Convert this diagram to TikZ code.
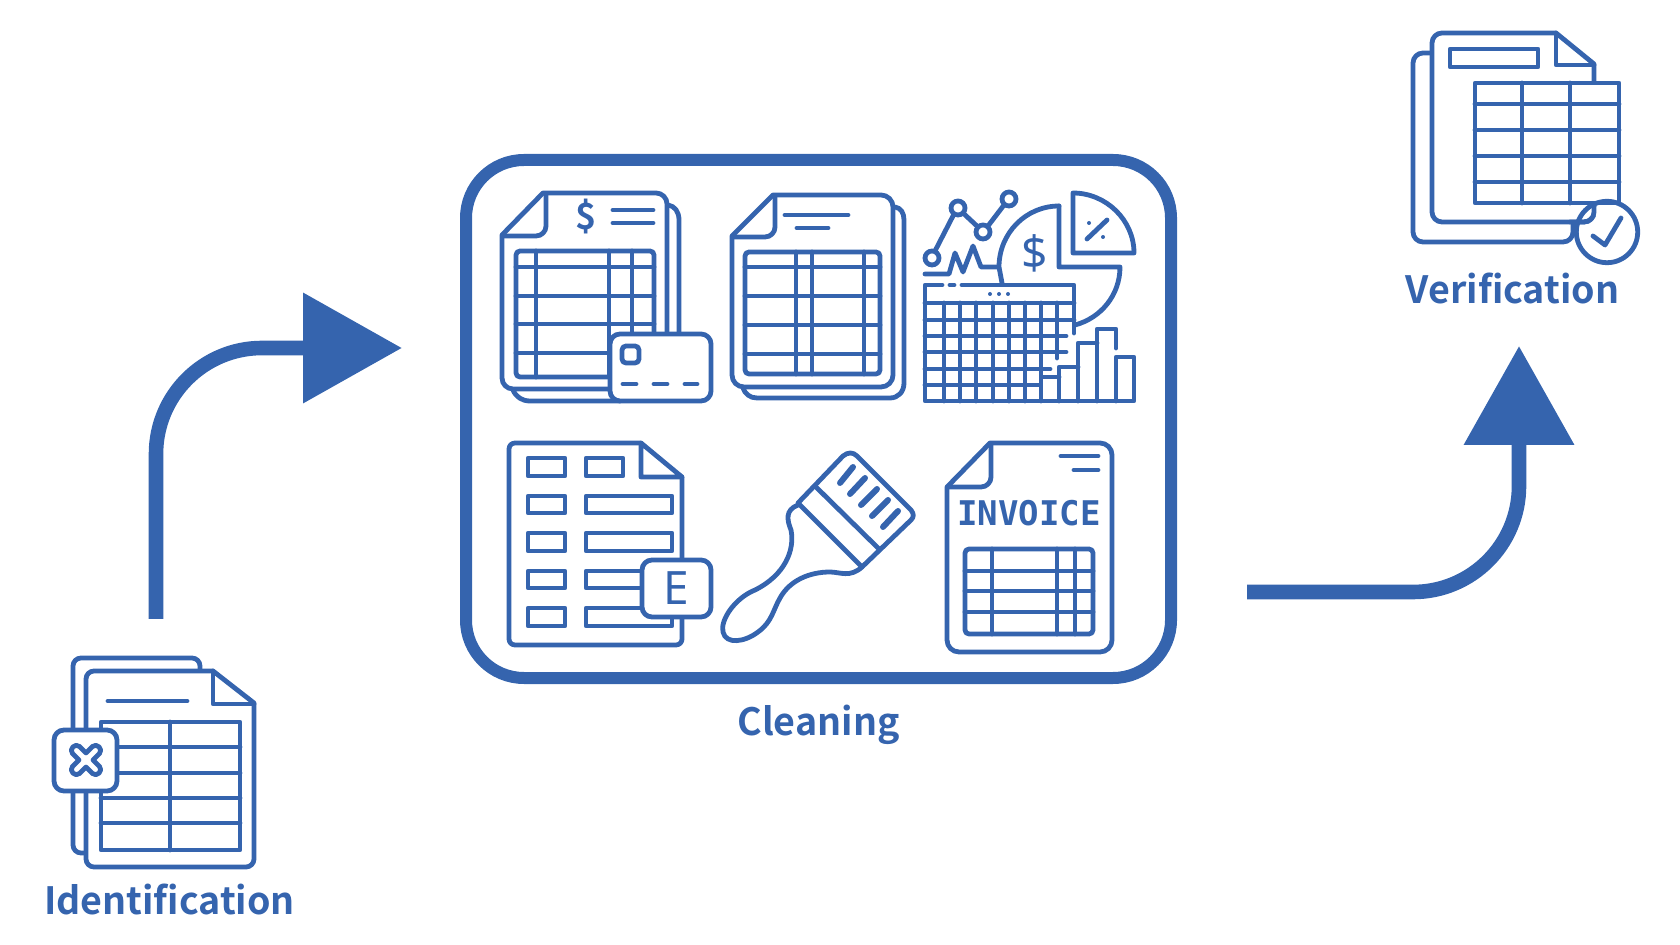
\documentclass[tikz,border=0pt]{standalone}
\usepackage{fontspec}
\setmainfont{Noto Sans}
\newfontfamily\invoicefont{DejaVu Sans Mono}
\newfontfamily\capfont{Noto Sans CJK SC}[BoldFont={Noto Sans CJK SC Bold}]
\usetikzlibrary{arrows.meta, positioning}
\definecolor{iconblue}{HTML}{3564AE}
\tikzset{
    icon/.style={draw=iconblue, line width=2.4pt, line join=round, line cap=round}, % every outline of the small pictures
    page/.style={icon, fill=white}, % sheets that hide what is behind them
    flow/.style={draw=iconblue, line width=7.3pt, rounded corners=53pt, -{Triangle[length=49.5pt, width=53.5pt]}}, % the two big arrows
    caption/.style={text=iconblue, font=\fontsize{18.8}{20}\selectfont\capfont\bfseries, anchor=base},
    glyph/.style={text=iconblue, inner sep=0pt},
}

\begin{document}
\begin{tikzpicture}[x=.5pt, y=-.5pt]
    \useasboundingbox (0,0) rectangle (1680,945);

    % frame and captions
    \node[draw=iconblue, line width=6pt, rounded corners=29pt, minimum width=352.5pt, minimum height=259pt, inner sep=0pt] (cleanbox) at (818.5,419) {};
    \node[caption] (cleanlabel) at (818.5,735) {Cleaning};
    \node[caption] (idlabel) at (169.5,914) {Identification};
    \node[caption] (verlabel) at (1512.5,304) {Verification};

    % arrows
    \coordinate (idstart) at (156,619);
    \coordinate (idend) at (402,348);
    \coordinate (verstart) at (1247,592);
    \coordinate (verend) at (1519,346);
    \draw[flow] (idstart) |- (idend);
    \draw[flow] (verstart) -| (verend);

    % sheet with card
    \draw[icon] (668,205) .. controls (675,206) and (679,212) .. (679,220) -- (679,340);
    \draw[icon] (513,390) .. controls (516,397) and (522,401) .. (530,401) -- (620,401);
    \draw[page] (543,193) [rounded corners=5.5pt] -- (667,193) -- (667,389) -- (502,389) [sharp corners] -- (502,235) -- cycle;
    \draw[icon, rounded corners=5pt] (546,194) -- (546,236) -- (503,236);
    \node[glyph, font=\fontsize{18}{18}\selectfont\capfont\bfseries] (dollara) at (586,217) {\$};
    \draw[icon] (613,210) -- (653,210) (613,223) -- (653,223);
    \draw[icon, rounded corners=2pt] (516,251) rectangle (654,377);
    \foreach \y in {267,296,324,353} \draw[icon] (516,\y) -- (654,\y);
    \foreach \x in {536,609,632} \draw[icon] (\x,251) -- (\x,377);
    \draw[page, rounded corners=5pt] (610,334) rectangle (711,401);
    \draw[icon, rounded corners=2pt] (622,346) rectangle (639,363);
    \draw[icon] (623,384) -- (636,384) (654,384) -- (667,384) (685,384) -- (697,384);

    % plain sheet
    \draw[icon] (895,207) .. controls (901,208) and (904,213) .. (904,220) -- (904,383) .. controls (904,392) and (898,398) .. (890,398) -- (757,398) .. controls (750,398) and (745,394) .. (743,388);
    \draw[page] (773,195) [rounded corners=6pt] -- (893,195) -- (893,387) -- (732,387) [sharp corners] -- (732,236) -- cycle;
    \draw[icon, rounded corners=5pt] (775,196) -- (775,237) -- (733,237);
    \draw[icon] (785,215) -- (848,215) (797,228) -- (828,228);
    \draw[icon, rounded corners=2pt] (745,252) rectangle (880,374);
    \foreach \y in {267,296,325,354} \draw[icon] (745,\y) -- (880,\y);
    \foreach \x in {796,812,864} \draw[icon] (\x,252) -- (\x,374);

    % charts
    \draw[icon] (932,258) circle[radius=7] (958,208) circle[radius=7] (983,232) circle[radius=7] (1009,199) circle[radius=7];
    \draw[icon] (935,251) -- (954,214) (963,213) -- (978,227) (988,226) -- (1004,205);
    \draw[icon] (925,274) -- (949,274) -- (955,253) -- (963,272) -- (973,246) -- (981,267) -- (998,267);
    \draw[icon] (1059,206) -- (1059,267) -- (1120,267) .. controls (1120,295) and (1101,318) .. (1075,325);
    \draw[icon] (1059,206) .. controls (1026,206) and (999,233) .. (999,267) -- (1002,283);
    \draw[icon] (1073,253) -- (1073,193) .. controls (1106,193) and (1134,220) .. (1134,253) -- cycle;
    \draw[icon] (1087,239) -- (1107,220);
    \fill[iconblue] (1089,223) circle[radius=2] (1103,237) circle[radius=2];
    \node[glyph, font=\fontsize{23}{23}\selectfont] (dollarb) at (1035,253) {\$};
    \draw[icon] (942,285) -- (925,285) -- (925,401) -- (1134,401) -- (1134,357) -- (1116,357) -- (1116,401);
    \draw[icon] (950,285) -- (954,285) (962,285) -- (1074,285) -- (1074,333);
    \draw[icon] (925,303) -- (1074,303);
    \fill[iconblue] (990,294) circle[radius=2] (999,294) circle[radius=2] (1008,294) circle[radius=2];
    \foreach \x in {944,960,976,993,1009,1025,1041} \draw[icon] (\x,303) -- (\x,401);
    \draw[icon] (1057,303) -- (1057,358);
    \draw[icon] (925,320) -- (1074,320) (925,336) -- (1066,336) (925,352) -- (1066,352) (925,369) -- (1050,369) (925,385) -- (1040,385);
    \draw[icon] (1043,377) -- (1059,377) (1059,401) -- (1059,367) -- (1078,367);
    \draw[icon] (1078,401) -- (1078,343) -- (1097,343) (1097,401) -- (1097,329) -- (1116,329) -- (1116,348);

    % form sheet
    \draw[page, rounded corners=3pt] (641,443) -- (509,443) -- (509,645) -- (682,645) -- (682,477);
    \draw[icon] (641,443) -- (682,477) -- (641,477) -- cycle;
    \foreach \y/\h in {458/476,496/513,533/551,571/588,608/626} \draw[icon] (528,\y) rectangle (565,\h);
    \draw[icon] (586,458) rectangle (623,476);
    \foreach \y/\h in {496/513,533/551,571/588,608/626} \draw[icon] (586,\y) rectangle (672,\h);
    \draw[page, rounded corners=5pt] (642,560) rectangle (711,617);
    \node[glyph, font=\fontsize{23}{23}\selectfont] (letterbox) at (676,588) {E};

    % brush
    \draw[icon] (798,503) -- (843,456) .. controls (848,452) and (853,452) .. (857,456) -- (911,510) .. controls (914,514) and (914,517) .. (911,520) -- (862,567) -- cycle;
    \draw[icon] (817,488) -- (878,548);
    \draw[icon, line width=3pt] (840,483) -- (853,467) (850,494) -- (865,478) (861,505) -- (877,489) (872,516) -- (888,500) (883,527) -- (898,511);
    \draw[icon] (798,505) .. controls (785,510) and (787,520) .. (791,530) .. controls (795,550) and (785,575) .. (755,590) .. controls (735,598) and (720,620) .. (723,632) .. controls (726,645) and (745,642) .. (758,632) .. controls (772,622) and (773,610) .. (780,598) .. controls (790,580) and (810,572) .. (830,572) .. controls (840,572) and (850,578) .. (862,567);

    % invoice sheet
    \draw[page] (990,443) [rounded corners=6pt] -- (1112,443) -- (1112,652) -- (947,652) [sharp corners] -- (947,487) -- cycle;
    \draw[icon, rounded corners=5pt] (991,444) -- (991,487) -- (948,487);
    \draw[icon] (1061,456) -- (1098,456) (1074,470) -- (1098,470);
    \node[glyph, font=\fontsize{17}{17}\selectfont\invoicefont\bfseries] (invoice) at (1029,513) {INVOICE};
    \draw[icon, rounded corners=2pt] (965,549) rectangle (1093,634);
    \foreach \y in {571,591,612} \draw[icon] (965,\y) -- (1093,\y);
    \foreach \x in {992,1057,1075} \draw[icon] (\x,549) -- (\x,634);

    % rejected sheet
    \draw[icon, rounded corners=4pt] (200,670) -- (200,658) -- (73,658) -- (73,853) -- (86,853);
    \draw[page] (213,671) -- (254,703) [rounded corners=4pt] -- (254,867) -- (86,867) -- (86,671) -- (213,671);
    \draw[icon] (213,671) -- (213,704) -- (254,704);
    \draw[icon] (108,701) -- (187,701);
    \draw[icon] (101,722) rectangle (240,850);
    \foreach \y in {747,773,798,823} \draw[icon] (101,\y) -- (240,\y);
    \draw[icon] (170,722) -- (170,850);
    \draw[page, rounded corners=5pt] (54,730) rectangle (117,791);
    \begin{scope}[shift={(86,760)}, rotate=45]
        \draw[icon] (-5,-5) -- (-5,-14) .. controls (-5,-20) and (5,-20) .. (5,-14) -- (5,-5) -- (14,-5) .. controls (20,-5) and (20,5) .. (14,5) -- (5,5) -- (5,14) .. controls (5,20) and (-5,20) .. (-5,14) -- (-5,5) -- (-14,5) .. controls (-20,5) and (-20,-5) .. (-14,-5) -- cycle;
    \end{scope}

    % checked sheet
    \draw[icon, rounded corners=5pt] (1432,53) -- (1413,53) -- (1413,242) -- (1573,242) -- (1573,225);
    \draw[page] (1556,33) -- (1594,64) [rounded corners=5pt] -- (1594,222) -- (1432,222) -- (1432,33) -- (1556,33);
    \draw[icon] (1556,33) -- (1556,65) -- (1594,65);
    \draw[icon] (1450,49) rectangle (1538,67);
    \draw[page] (1475,83) rectangle (1619,203);
    \foreach \y in {104,130,156,182} \draw[icon] (1475,\y) -- (1619,\y);
    \foreach \x in {1522,1570} \draw[icon] (\x,83) -- (\x,203);
    \fill[white] (1590,207) rectangle (1625,216);
    \draw[icon, rounded corners=5pt] (1594,206) -- (1594,222) -- (1570,222);
    \draw[icon] (1607,232) circle[radius=30.7];
    \draw[icon] (1593,236) -- (1605,245) -- (1621,218);
\end{tikzpicture}
\end{document}
